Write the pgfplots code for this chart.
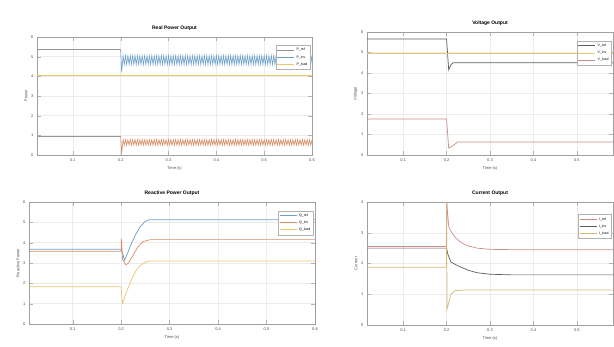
\documentclass[border=0pt]{standalone}
\usepackage{fontspec}
\setmainfont{Liberation Sans}
\usepackage{pgfplots}
\pgfplotsset{compat=1.18}
\definecolor{cblue}{RGB}{110,160,205}
\definecolor{corange}{RGB}{215,140,100}
\definecolor{cyellow}{RGB}{235,200,110}
\definecolor{cgray}{RGB}{150,150,150}
\definecolor{cdark}{RGB}{85,95,90}
\definecolor{cpink}{RGB}{200,140,140}
\pgfplotsset{mystyle/.style={
  scale only axis,
  grid=major, grid style={gray!15},
  axis line style={gray!75},
  tick style={gray!60},
  tick label style={font=\fontsize{4}{4}\selectfont, text=gray!60!black},
  label style={font=\fontsize{4}{4}\selectfont, text=gray!60!black},
  title style={font=\fontsize{5}{5}\selectfont\bfseries, yshift=-3pt},
  legend style={font=\fontsize{3.5}{4}\selectfont, at={(0.995,0.93)}, anchor=north east,
    draw=gray!60, fill=white, row sep=-1pt, inner sep=1pt},
  legend cell align=left,
  every axis plot/.append style={line width=0.7pt},
  /pgf/number format/assume math mode=true,
  xtick={0.1,0.2,0.3,0.4,0.5,0.6},
  xlabel={Time (s)},
  xlabel style={yshift=2pt},
  ylabel style={yshift=-3pt},
}}
\begin{document}
\begin{tikzpicture}[x=1pt,y=1pt]
\useasboundingbox (0,0) rectangle (614,347);
% Top left
\begin{axis}[mystyle, at={(37pt,192pt)}, anchor=south west, width=275pt, height=118pt,
  xmin=0.025, xmax=0.6, ymin=0, ymax=6, ytick={0,1,2,3,4,5,6},
  title={Real Power Output}, ylabel={Power}]
\addplot[cgray] coordinates {(0.025,5.35)(0.2,5.35)};
\addplot[cblue, line width=0.6pt] coordinates {(0.2,5.35)(0.202,4.2)(0.205,5.05)(0.2075,4.6)
(0.21,5.05)(0.2125,4.6)(0.215,5.05)(0.2175,4.6)(0.22,5.05)(0.2225,4.6)(0.225,5.05)(0.2275,4.6)
(0.23,5.05)(0.2325,4.6)(0.235,5.05)(0.2375,4.6)(0.24,5.05)(0.2425,4.6)(0.245,5.05)(0.2475,4.6)
(0.25,5.05)(0.2525,4.6)(0.255,5.05)(0.2575,4.6)(0.26,5.05)(0.2625,4.6)(0.265,5.05)(0.2675,4.6)
(0.27,5.05)(0.2725,4.6)(0.275,5.05)(0.2775,4.6)(0.28,5.05)(0.2825,4.6)(0.285,5.05)(0.2875,4.6)
(0.29,5.05)(0.2925,4.6)(0.295,5.05)(0.2975,4.6)(0.3,5.05)(0.3025,4.6)(0.305,5.05)(0.3075,4.6)
(0.31,5.05)(0.3125,4.6)(0.315,5.05)(0.3175,4.6)(0.32,5.05)(0.3225,4.6)(0.325,5.05)(0.3275,4.6)
(0.33,5.05)(0.3325,4.6)(0.335,5.05)(0.3375,4.6)(0.34,5.05)(0.3425,4.6)(0.345,5.05)(0.3475,4.6)
(0.35,5.05)(0.3525,4.6)(0.355,5.05)(0.3575,4.6)(0.36,5.05)(0.3625,4.6)(0.365,5.05)(0.3675,4.6)
(0.37,5.05)(0.3725,4.6)(0.375,5.05)(0.3775,4.6)(0.38,5.05)(0.3825,4.6)(0.385,5.05)(0.3875,4.6)
(0.39,5.05)(0.3925,4.6)(0.395,5.05)(0.3975,4.6)(0.4,5.05)(0.4025,4.6)(0.405,5.05)(0.4075,4.6)
(0.41,5.05)(0.4125,4.6)(0.415,5.05)(0.4175,4.6)(0.42,5.05)(0.4225,4.6)(0.425,5.05)(0.4275,4.6)
(0.43,5.05)(0.4325,4.6)(0.435,5.05)(0.4375,4.6)(0.44,5.05)(0.4425,4.6)(0.445,5.05)(0.4475,4.6)
(0.45,5.05)(0.4525,4.6)(0.455,5.05)(0.4575,4.6)(0.46,5.05)(0.4625,4.6)(0.465,5.05)(0.4675,4.6)
(0.47,5.05)(0.4725,4.6)(0.475,5.05)(0.4775,4.6)(0.48,5.05)(0.4825,4.6)(0.485,5.05)(0.4875,4.6)
(0.49,5.05)(0.4925,4.6)(0.495,5.05)(0.4975,4.6)(0.5,5.05)(0.5025,4.6)(0.505,5.05)(0.5075,4.6)
(0.51,5.05)(0.5125,4.6)(0.515,5.05)(0.5175,4.6)(0.52,5.05)(0.5225,4.6)(0.525,5.05)(0.5275,4.6)
(0.53,5.05)(0.5325,4.6)(0.535,5.05)(0.5375,4.6)(0.54,5.05)(0.5425,4.6)(0.545,5.05)(0.5475,4.6)
(0.55,5.05)(0.5525,4.6)(0.555,5.05)(0.5575,4.6)(0.56,5.05)(0.5625,4.6)(0.565,5.05)(0.5675,4.6)
(0.57,5.05)(0.5725,4.6)(0.575,5.05)(0.5775,4.6)(0.58,5.05)(0.5825,4.6)(0.585,5.05)(0.5875,4.6)
(0.59,5.05)(0.5925,4.6)(0.595,5.05)(0.5975,4.6)(0.6,5.05)};
\addplot[cyellow] coordinates {(0.025,4.06)(0.6,4.06)};
\addplot[cgray, forget plot] coordinates {(0.025,0.95)(0.2,0.95)};
\addplot[corange, line width=0.6pt, forget plot] coordinates {(0.2,0.95)(0.202,0.1)(0.205,0.78)(0.2075,0.5)
(0.21,0.78)(0.2125,0.5)(0.215,0.78)(0.2175,0.5)(0.22,0.78)(0.2225,0.5)(0.225,0.78)(0.2275,0.5)
(0.23,0.78)(0.2325,0.5)(0.235,0.78)(0.2375,0.5)(0.24,0.78)(0.2425,0.5)(0.245,0.78)(0.2475,0.5)
(0.25,0.78)(0.2525,0.5)(0.255,0.78)(0.2575,0.5)(0.26,0.78)(0.2625,0.5)(0.265,0.78)(0.2675,0.5)
(0.27,0.78)(0.2725,0.5)(0.275,0.78)(0.2775,0.5)(0.28,0.78)(0.2825,0.5)(0.285,0.78)(0.2875,0.5)
(0.29,0.78)(0.2925,0.5)(0.295,0.78)(0.2975,0.5)(0.3,0.78)(0.3025,0.5)(0.305,0.78)(0.3075,0.5)
(0.31,0.78)(0.3125,0.5)(0.315,0.78)(0.3175,0.5)(0.32,0.78)(0.3225,0.5)(0.325,0.78)(0.3275,0.5)
(0.33,0.78)(0.3325,0.5)(0.335,0.78)(0.3375,0.5)(0.34,0.78)(0.3425,0.5)(0.345,0.78)(0.3475,0.5)
(0.35,0.78)(0.3525,0.5)(0.355,0.78)(0.3575,0.5)(0.36,0.78)(0.3625,0.5)(0.365,0.78)(0.3675,0.5)
(0.37,0.78)(0.3725,0.5)(0.375,0.78)(0.3775,0.5)(0.38,0.78)(0.3825,0.5)(0.385,0.78)(0.3875,0.5)
(0.39,0.78)(0.3925,0.5)(0.395,0.78)(0.3975,0.5)(0.4,0.78)(0.4025,0.5)(0.405,0.78)(0.4075,0.5)
(0.41,0.78)(0.4125,0.5)(0.415,0.78)(0.4175,0.5)(0.42,0.78)(0.4225,0.5)(0.425,0.78)(0.4275,0.5)
(0.43,0.78)(0.4325,0.5)(0.435,0.78)(0.4375,0.5)(0.44,0.78)(0.4425,0.5)(0.445,0.78)(0.4475,0.5)
(0.45,0.78)(0.4525,0.5)(0.455,0.78)(0.4575,0.5)(0.46,0.78)(0.4625,0.5)(0.465,0.78)(0.4675,0.5)
(0.47,0.78)(0.4725,0.5)(0.475,0.78)(0.4775,0.5)(0.48,0.78)(0.4825,0.5)(0.485,0.78)(0.4875,0.5)
(0.49,0.78)(0.4925,0.5)(0.495,0.78)(0.4975,0.5)(0.5,0.78)(0.5025,0.5)(0.505,0.78)(0.5075,0.5)
(0.51,0.78)(0.5125,0.5)(0.515,0.78)(0.5175,0.5)(0.52,0.78)(0.5225,0.5)(0.525,0.78)(0.5275,0.5)
(0.53,0.78)(0.5325,0.5)(0.535,0.78)(0.5375,0.5)(0.54,0.78)(0.5425,0.5)(0.545,0.78)(0.5475,0.5)
(0.55,0.78)(0.5525,0.5)(0.555,0.78)(0.5575,0.5)(0.56,0.78)(0.5625,0.5)(0.565,0.78)(0.5675,0.5)
(0.57,0.78)(0.5725,0.5)(0.575,0.78)(0.5775,0.5)(0.58,0.78)(0.5825,0.5)(0.585,0.78)(0.5875,0.5)
(0.59,0.78)(0.5925,0.5)(0.595,0.78)(0.5975,0.5)(0.6,0.78)};
\legend{P\_ref, P\_inv, P\_load}
\end{axis}
% Top right
\begin{axis}[mystyle, at={(367pt,192pt)}, anchor=south west, width=246pt, height=123pt,
  xmin=0.017, xmax=0.583, ymin=0, ymax=6, ytick={0,1,2,3,4,5,6}, xtick={0.1,0.2,0.3,0.4,0.5},
  title={Voltage Output}, ylabel={Voltage}]
\addplot[cdark] coordinates {(0.017,5.66)(0.2,5.66)(0.205,4.15)(0.21,4.4)(0.215,4.5)(0.583,4.5)};
\addplot[cyellow] coordinates {(0.017,4.98)(0.583,4.98)};
\addplot[cpink] coordinates {(0.017,1.76)(0.2,1.76)(0.205,0.34)(0.215,0.45)(0.225,0.63)(0.583,0.63)};
\legend{V\_ref, V\_inv, V\_load}
\end{axis}
% Bottom left
\begin{axis}[mystyle, at={(29pt,23pt)}, anchor=south west, width=286pt, height=122pt,
  xmin=0.01, xmax=0.6, ymin=0, ymax=6, ytick={0,1,2,3,4,5,6},
  title={Reactive Power Output}, ylabel={Reactive Power}]
\addplot[cblue] coordinates {(0.01,3.68)(0.2,3.68)(0.203,3.5)(0.207,3.14)(0.212,3.4)(0.22,3.9)(0.23,4.4)(0.24,4.8)(0.25,5.05)(0.258,5.13)(0.6,5.13)};
\addplot[corange] coordinates {(0.01,3.58)(0.2,3.58)(0.2005,4.2)(0.203,3.2)(0.21,2.9)(0.215,3.0)(0.225,3.4)(0.235,3.8)(0.245,4.05)(0.26,4.15)(0.6,4.15)};
\addplot[cyellow] coordinates {(0.01,1.83)(0.2,1.83)(0.201,1.5)(0.203,1.01)(0.21,1.5)(0.22,2.1)(0.23,2.6)(0.24,2.9)(0.255,3.08)(0.265,3.1)(0.6,3.1)};
\legend{Q\_ref, Q\_inv, Q\_load}
\end{axis}
% Bottom right
\begin{axis}[mystyle, at={(367pt,22pt)}, anchor=south west, width=246pt, height=123pt,
  xmin=0.017, xmax=0.583, ymin=0, ymax=4, ytick={0,1,2,3,4}, xtick={0.1,0.2,0.3,0.4,0.5},
  title={Current Output}, ylabel={Current}, legend style={at={(0.995,0.9)}}]
\addplot[cpink] coordinates {(0.017,2.55)(0.2,2.55)(0.2005,4.0)(0.205,3.2)(0.21,3.05)(0.22,2.85)(0.23,2.72)(0.24,2.63)(0.25,2.57)(0.27,2.5)(0.3,2.46)(0.35,2.45)(0.583,2.45)};
\addplot[cdark] coordinates {(0.017,2.5)(0.2,2.5)(0.203,2.3)(0.21,2.05)(0.22,1.97)(0.23,1.9)(0.25,1.78)(0.27,1.7)(0.3,1.65)(0.35,1.63)(0.583,1.63)};
\addplot[cyellow!80!gray] coordinates {(0.017,1.88)(0.2,1.88)(0.2005,4.0)(0.201,0.5)(0.21,1.0)(0.22,1.12)(0.25,1.14)(0.583,1.14)};
\legend{I\_ref, I\_inv, I\_load}
\end{axis}
\end{tikzpicture}
\end{document}
